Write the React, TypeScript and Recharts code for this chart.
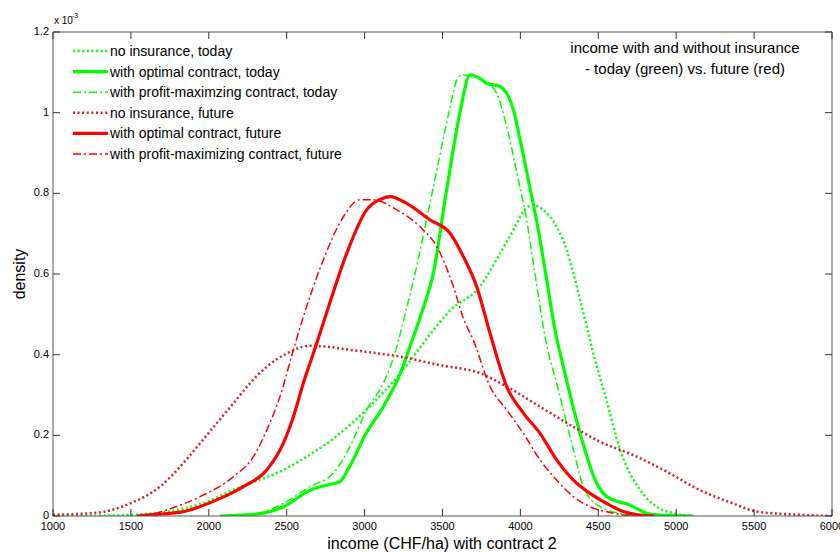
import React from 'react';
import { LineChart, Line, XAxis, YAxis, Customized } from 'recharts';

// x: income (CHF/ha), y: density in units of 1e-3
const noInsToday = [
  [1000, 0], [1300, 0.001], [1500, 0.003], [1700, 0.009], [2000, 0.037], [2150, 0.064], [2264, 0.081],
  [2478, 0.114], [2585, 0.137], [2800, 0.192], [3010, 0.263], [3230, 0.354], [3440, 0.46], [3550, 0.51],
  [3741, 0.569], [3869, 0.651], [3955, 0.709], [4019, 0.755], [4083, 0.771], [4147, 0.759], [4233, 0.717],
  [4297, 0.66], [4340, 0.602], [4383, 0.536], [4426, 0.469], [4470, 0.4], [4554, 0.285], [4640, 0.164],
  [4770, 0.064], [4875, 0.023], [4980, 0.007], [5100, 0],
];
const optToday = [
  [2070, 0], [2200, 0.002], [2350, 0.007], [2480, 0.023], [2650, 0.064], [2760, 0.077], [2840, 0.085],
  [2900, 0.12], [3010, 0.205], [3120, 0.271], [3230, 0.354], [3300, 0.43], [3380, 0.52], [3440, 0.6],
  [3523, 0.8], [3612, 1.0], [3677, 1.094], [3740, 1.085], [3784, 1.073], [3869, 1.065], [3955, 1.007],
  [4000, 0.93], [4051, 0.833], [4115, 0.709], [4169, 0.585], [4222, 0.461], [4276, 0.37], [4383, 0.205],
  [4490, 0.081], [4554, 0.048], [4704, 0.027], [4811, 0.007], [4900, 0.002], [5110, 0],
];
const profToday = [
  [2100, 0], [2300, 0.005], [2478, 0.031], [2650, 0.073], [2799, 0.106], [2906, 0.172], [3013, 0.263],
  [3120, 0.329], [3200, 0.41], [3260, 0.5], [3323, 0.6], [3433, 0.8], [3541, 1.0], [3591, 1.08],
  [3625, 1.094], [3680, 1.09], [3784, 1.073], [3848, 1.048], [3912, 0.965], [3987, 0.833], [4040, 0.734],
  [4083, 0.627], [4126, 0.52], [4160, 0.44], [4233, 0.329], [4340, 0.164], [4404, 0.073], [4511, 0.023],
  [4660, 0.005], [4750, 0],
];
const noInsFuture = [
  [1000, 0.003], [1150, 0.005], [1302, 0.009], [1494, 0.031], [1687, 0.073], [1836, 0.131], [1943, 0.18],
  [2051, 0.23], [2157, 0.279], [2264, 0.329], [2372, 0.37], [2500, 0.403], [2650, 0.422], [2750, 0.42],
  [2906, 0.412], [3227, 0.395], [3484, 0.374], [3741, 0.354], [3912, 0.321], [4126, 0.271], [4340, 0.221],
  [4511, 0.184], [4725, 0.151], [4939, 0.11], [5153, 0.064], [5367, 0.031], [5517, 0.011], [5795, 0.003],
  [6000, 0],
];
const optFuture = [
  [1540, 0], [1623, 0.003], [1836, 0.011], [2051, 0.04], [2222, 0.073], [2372, 0.114], [2478, 0.18],
  [2543, 0.246], [2607, 0.33], [2693, 0.428], [2778, 0.53], [2885, 0.651], [3013, 0.759], [3100, 0.785],
  [3163, 0.792], [3270, 0.775], [3420, 0.734], [3548, 0.701], [3634, 0.643], [3719, 0.569], [3805, 0.453],
  [3912, 0.321], [4019, 0.255], [4126, 0.205], [4233, 0.139], [4340, 0.089], [4447, 0.056], [4554, 0.031],
  [4661, 0.011], [4750, 0.003], [4860, 0],
];
const profFuture = [
  [1550, 0], [1650, 0.006], [1730, 0.015], [1943, 0.048], [2157, 0.097], [2286, 0.147], [2372, 0.213],
  [2457, 0.296], [2543, 0.412], [2607, 0.494], [2735, 0.635], [2864, 0.742], [2970, 0.784], [3056, 0.784],
  [3206, 0.759], [3356, 0.717], [3463, 0.668], [3570, 0.569], [3634, 0.49], [3698, 0.436], [3805, 0.321],
  [3912, 0.263], [4019, 0.205], [4126, 0.139], [4233, 0.089], [4340, 0.048], [4447, 0.023], [4597, 0.007],
  [4700, 0],
];

const xTicks = [1000, 1500, 2000, 2500, 3000, 3500, 4000, 4500, 5000, 5500, 6000];
const yTicks = [0, 0.2, 0.4, 0.6, 0.8, 1, 1.2];
const seriesNames = [
  'no insurance, today',
  'with optimal contract, today',
  'with profit-maximzing contract, today',
  'no insurance, future',
  'with optimal contract, future',
  'with profit-maximizing contract, future',
];
const titleLines = ['income with and without insurance', '- today (green) vs. future (red)'];
const xLabel = 'income (CHF/ha) with contract 2';
const yLabel = 'density';

const toPts = (arr: number[][]) => arr.map(([x, y]) => ({ x, y }));

const GREEN = '#00ff00';
const RED = '#ff0000';
const RED_DOT = '#d0202c';

const series = [
  { data: noInsToday, color: GREEN, width: 2.5, dash: '2 2.6' },
  { data: optToday, color: GREEN, width: 3.2, dash: undefined },
  { data: profToday, color: GREEN, width: 1.5, dash: '8 3 2 3' },
  { data: noInsFuture, color: RED_DOT, width: 2.5, dash: '2 2.6' },
  { data: optFuture, color: RED, width: 3.2, dash: undefined },
  { data: profFuture, color: RED, width: 1.5, dash: '8 3 2 3' },
];

const TICK_FONT = '"Liberation Sans Narrow", "Arial Narrow", "Liberation Sans", Arial, sans-serif';
const FONT = '"Liberation Sans", Arial, sans-serif';
const TL = 7;
const TICK_COLOR = '#333';

const BottomTick = (p: any) => (
  <g>
    <line x1={p.x} y1={p.y} x2={p.x} y2={p.y - TL} stroke={TICK_COLOR} strokeWidth={1} />
    <text x={p.x} y={p.y + 14} textAnchor="middle" fontSize={11} fontFamily={TICK_FONT} fill="#000">
      {p.payload.value}
    </text>
  </g>
);
const TopTick = (p: any) => (
  <line x1={p.x} y1={p.y} x2={p.x} y2={p.y + TL} stroke={TICK_COLOR} strokeWidth={1} />
);
const LeftTick = (p: any) => (
  <g>
    <line x1={p.x} y1={p.y} x2={p.x + TL} y2={p.y} stroke={TICK_COLOR} strokeWidth={1} />
    <text x={p.x - 4} y={p.y + 3} textAnchor="end" fontSize={11} fontFamily={TICK_FONT} fill="#000">
      {String(p.payload.value)}
    </text>
  </g>
);
const RightTick = (p: any) => (
  <line x1={p.x} y1={p.y} x2={p.x - TL} y2={p.y} stroke={TICK_COLOR} strokeWidth={1} />
);

const LEG_X = 73;
const LEG_Y0 = 51;
const LEG_DY = 20.6;

const Texts = () => (
  <g fontFamily={FONT} fill="#000">
    {series.map((s, i) => {
      const cy = LEG_Y0 + i * LEG_DY;
      return (
        <g key={i}>
          <line x1={LEG_X} y1={cy} x2={LEG_X + 35} y2={cy} stroke={s.color} strokeWidth={s.width} strokeDasharray={s.dash} />
          <text x={LEG_X + 37} y={cy + 5} fontSize={14}>{seriesNames[i]}</text>
        </g>
      );
    })}
    <text x={685} y={53} textAnchor="middle" fontSize={15}>{titleLines[0]}</text>
    <text x={685} y={74} textAnchor="middle" fontSize={15}>{titleLines[1]}</text>
    <text x={442} y={549} textAnchor="middle" fontSize={16}>{xLabel}</text>
    <text x={25} y={274} textAnchor="middle" fontSize={16} transform="rotate(-90 25 274)">{yLabel}</text>
    <text x={54} y={24} fontSize={10} fontFamily={TICK_FONT}>x 10</text>
    <text x={72} y={18} fontSize={7} fontFamily={TICK_FONT}>-3</text>
  </g>
);

export default function App() {
  return (
    <div style={{ position: 'absolute', left: 0, top: 0, background: '#fff' }}>
      <LineChart width={840} height={552} margin={{ top: 22, right: 3, bottom: 6, left: 13 }}>
        <XAxis
          xAxisId="b" dataKey="x" type="number" domain={[1000, 6000]} ticks={xTicks}
          orientation="bottom" height={30} tickSize={0} tickMargin={0} tickLine={false}
          axisLine={{ stroke: '#555' }} tick={BottomTick} interval={0} allowDataOverflow
        />
        <XAxis
          xAxisId="t" dataKey="x" type="number" domain={[1000, 6000]} ticks={xTicks}
          orientation="top" height={10} tickSize={0} tickMargin={0} tickLine={false}
          axisLine={{ stroke: '#555' }} tick={TopTick} interval={0} allowDataOverflow
        />
        <YAxis
          yAxisId="l" type="number" domain={[0, 1.2]} ticks={yTicks} orientation="left" width={40}
          tickSize={0} tickMargin={0} tickLine={false} axisLine={{ stroke: '#555' }} tick={LeftTick}
          interval={0} allowDataOverflow
        />
        <YAxis
          yAxisId="r" type="number" domain={[0, 1.2]} ticks={yTicks} orientation="right" width={5}
          tickSize={0} tickMargin={0} tickLine={false} axisLine={{ stroke: '#555' }} tick={RightTick}
          interval={0} allowDataOverflow
        />
        {series.map((s, i) => (
          <Line
            key={i}
            xAxisId="b"
            yAxisId="l"
            data={toPts(s.data)}
            dataKey="y"
            name={seriesNames[i]}
            type="monotone"
            stroke={s.color}
            strokeWidth={s.width}
            strokeDasharray={s.dash}
            dot={false}
            activeDot={false}
            isAnimationActive={false}
          />
        ))}
        <Customized component={Texts} />
      </LineChart>
    </div>
  );
}
